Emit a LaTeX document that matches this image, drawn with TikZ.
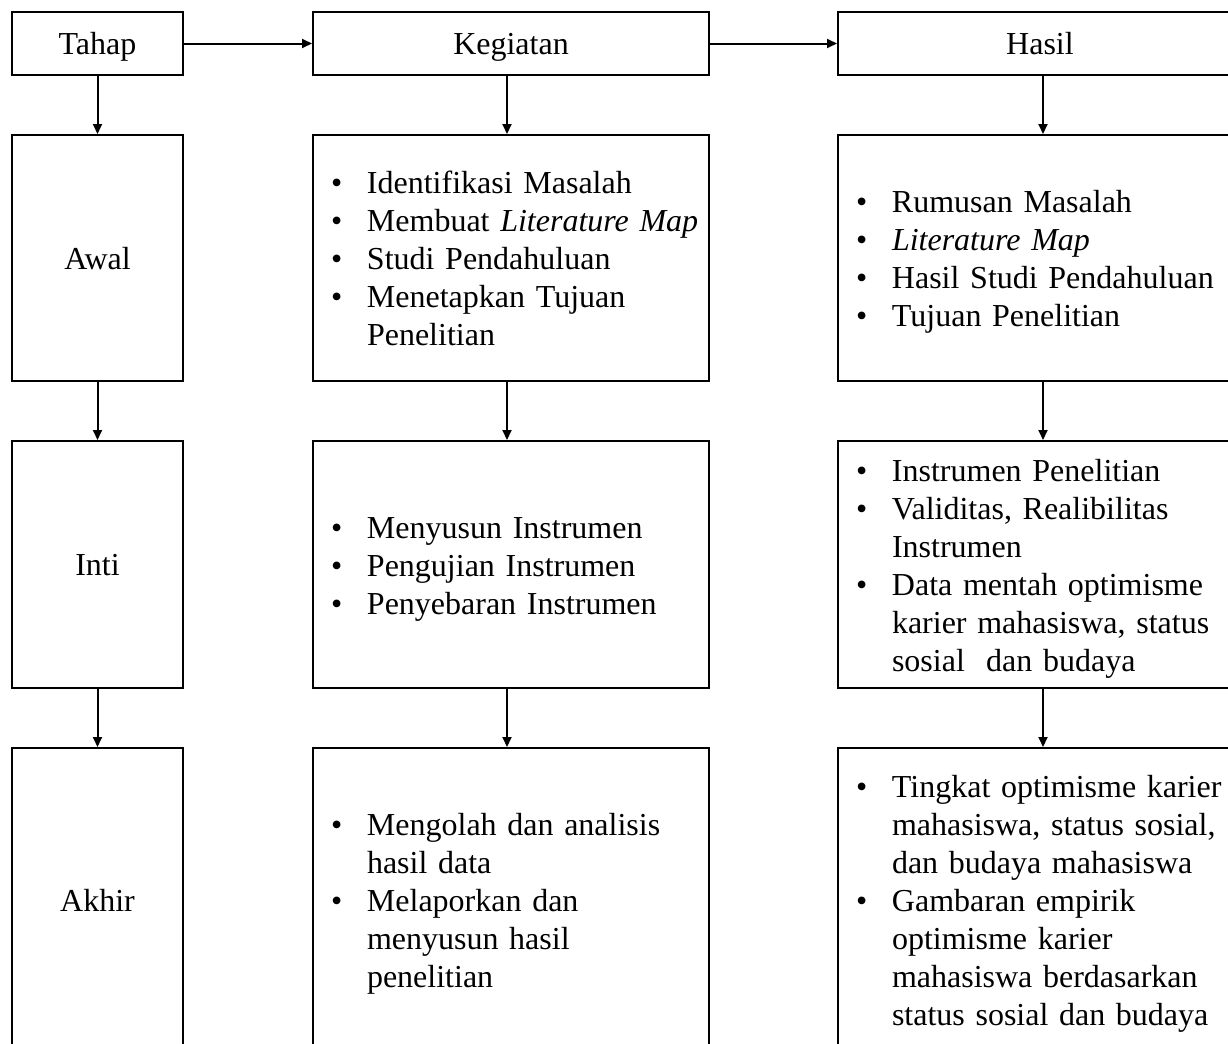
\documentclass[tikz,border=0pt]{standalone}
\usepackage{fontspec}
\setmainfont{Liberation Serif}[WordSpace=0.85]
\usetikzlibrary{arrows.meta}

\newcommand{\bul}{\textbullet}
\newcommand{\poin}[1]{\raisebox{-2pt}[\height][\depth]{\begin{tabular}{@{}p{18pt}@{}l@{}}#1\end{tabular}}}

\tikzset{
  kotak/.style={draw, line width=1pt, inner sep=0pt,
    font=\fontsize{16}{19}\selectfont},
  judul/.style={kotak, text height=13pt, text depth=2pt},
  daftar/.style={kotak, inner xsep=9pt, align=left},
  panah/.style={line width=1pt, -{Triangle[length=5pt,width=4.5pt]}}
}

\begin{document}
\begin{tikzpicture}[x=0.5pt,y=-0.5pt]
      \clip (0,0) rectangle (1228,1044);

      % judul kolom
      \node[judul, minimum width=85.5pt, minimum height=31.5pt] (tahap) at (97.5,43.5) {Tahap};
      \node[judul, minimum width=198pt, minimum height=31.5pt] (kegiatan) at (511,43.5) {Kegiatan};
      \node[judul, minimum width=202pt, minimum height=31.5pt] (hasil) at (1040,43.5) {Hasil};

      % tahap awal
      \node[judul, minimum width=85.5pt, minimum height=123pt] (awal) at (97.5,258) {Awal};
      \node[daftar, text width=180pt, minimum height=123pt] (keg1) at (511,258) {\poin{
          \bul & Identifikasi Masalah\\
          \bul & Membuat \textit{Literature Map}\\
          \bul & Studi Pendahuluan\\
          \bul & Menetapkan Tujuan\\
               & Penelitian}};
      \node[daftar, text width=184pt, minimum height=123pt] (has1) at (1040,258) {\poin{
          \bul & Rumusan Masalah\\
          \bul & \textit{Literature Map}\\
          \bul & Hasil Studi Pendahuluan\\
          \bul & Tujuan Penelitian}};

      % tahap inti
      \node[judul, minimum width=85.5pt, minimum height=123.5pt] (inti) at (97.5,564.5) {Inti};
      \node[daftar, text width=180pt, minimum height=123.5pt] (keg2) at (511,564.5) {\poin{
          \bul & Menyusun Instrumen\\
          \bul & Pengujian Instrumen\\
          \bul & Penyebaran Instrumen}};
      \node[daftar, text width=184pt, minimum height=123.5pt] (has2) at (1040,564.5) {\poin{
          \bul & Instrumen Penelitian\\
          \bul & Validitas, Realibilitas\\
               & Instrumen\\
          \bul & Data mentah optimisme\\
               & karier mahasiswa, status\\
               & sosial~~dan budaya}};

      % tahap akhir
      \node[judul, minimum width=85.5pt, minimum height=152pt] (akhir) at (97.5,900) {Akhir};
      \node[daftar, text width=180pt, minimum height=152pt] (keg3) at (511,900) {\poin{
          \bul & Mengolah dan analisis\\
               & hasil data\\
          \bul & Melaporkan dan\\
               & menyusun hasil\\
               & penelitian}};
      \node[daftar, text width=184pt, minimum height=152pt] (has3) at (1040,900) {\poin{
          \bul & Tingkat optimisme karier\\
               & mahasiswa, status sosial,\\
               & dan budaya mahasiswa\\
          \bul & Gambaran empirik\\
               & optimisme karier\\
               & mahasiswa berdasarkan\\
               & status sosial dan budaya}};

      % panah
      \draw[panah] (tahap) -- (kegiatan);
      \draw[panah] (kegiatan) -- (hasil);
      \draw[panah] (tahap) -- (awal);
      \draw[panah] (awal) -- (inti);
      \draw[panah] (inti) -- (akhir);
      \draw[panah] ([xshift=-2pt]kegiatan.south) -- ([xshift=-2pt]keg1.north);
      \draw[panah] ([xshift=-2pt]keg1.south) -- ([xshift=-2pt]keg2.north);
      \draw[panah] ([xshift=-2pt]keg2.south) -- ([xshift=-2pt]keg3.north);
      \draw[panah] ([xshift=1.5pt]hasil.south) -- ([xshift=1.5pt]has1.north);
      \draw[panah] ([xshift=1.5pt]has1.south) -- ([xshift=1.5pt]has2.north);
      \draw[panah] ([xshift=1.5pt]has2.south) -- ([xshift=1.5pt]has3.north);
    \end{tikzpicture}
\end{document}
